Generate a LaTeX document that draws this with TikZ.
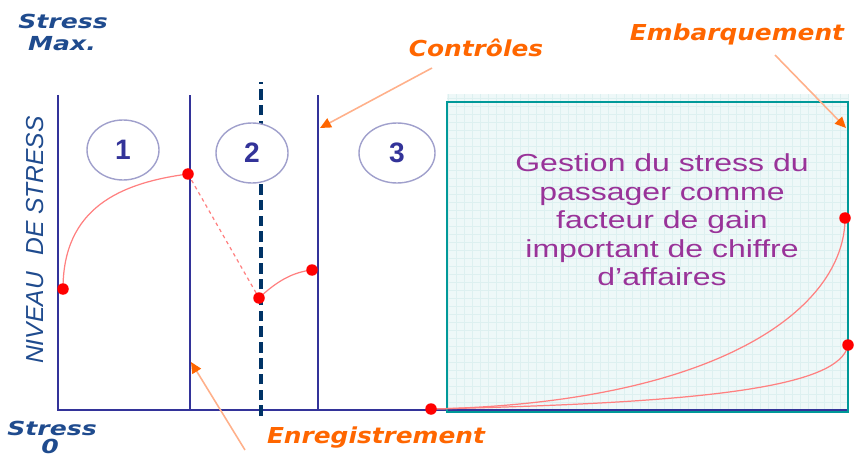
\documentclass[tikz,border=0pt]{standalone}
\usepackage{fontspec}
\setmainfont{Liberation Sans}
\newfontfamily\labelfont{DejaVu Sans}
\usepackage{graphicx}
\usepackage{tikz}
\usetikzlibrary{arrows.meta, positioning, calc, shapes.geometric}

\definecolor{axisblue}{HTML}{333399}
\definecolor{dashblue}{HTML}{003366}
\definecolor{boxteal}{HTML}{009999}
\definecolor{boxfill}{HTML}{EEF8F8}
\definecolor{gridline}{HTML}{DDF0F0}
\definecolor{labelorange}{HTML}{FF6600}
\definecolor{arroworange}{HTML}{FFB08A}
\definecolor{curvered}{HTML}{FF8080}
\definecolor{textpurple}{HTML}{993399}
\definecolor{ringgray}{HTML}{A0A0CC}
\definecolor{titleblue}{HTML}{1F4B8E}

\begin{document}
\begin{tikzpicture}[
      x=0.2mm, y=0.2mm,
      axis/.style={draw=axisblue, line width=1.6pt},
      dashaxis/.style={draw=dashblue, line width=1.8pt, dash pattern=on 6pt off 3pt},
      phase/.style={ellipse, draw=ringgray, line width=0.8pt, fill=white,
        minimum width=14.4mm, minimum height=12mm, inner sep=0pt,
        font=\bfseries\fontsize{16}{18}\selectfont, text=axisblue},
      dot/.style={circle, fill=red, inner sep=0pt, minimum size=2.3mm},
      curve/.style={draw=curvered, line width=0.7pt},
      tag/.style={font=\labelfont\bfseries\itshape\fontsize{12.5}{14}\selectfont,
        text=labelorange, xscale=1.13, inner sep=0pt},
      scalelab/.style={font=\labelfont\bfseries\itshape\fontsize{11}{12}\selectfont,
        text=titleblue, xscale=1.3, inner sep=0pt},
      vlab/.style={font=\itshape\fontsize{14}{16}\selectfont, text=titleblue,
        rotate=90, inner sep=0pt},
      boxtext/.style={font=\fontsize{14}{16.2}\selectfont, text=textpurple,
        align=center, xscale=1.3, inner sep=0pt},
      pointer/.style={draw=arroworange, line width=0.9pt,
        -{Triangle[length=2.2mm, width=2mm, color=labelorange]}}
    ]
    \useasboundingbox (0,0) rectangle (856,458);

    % ---- gain zone on the right ----
    \fill[boxfill] (447,46) rectangle (848,364);
    \draw[gridline, line width=0.4pt, step=1.6mm] (447,46) grid (848,364);

    % ---- axes and phase limits ----
    \draw[axis] (58,363) -- (58,48) -- (848,48);
    \draw[axis] (190,48) -- (190,363);
    \draw[axis] (318,48) -- (318,363);
    \draw[dashaxis] (261,42) -- (261,376);
    \draw[draw=boxteal, line width=1.6pt] (447,46) rectangle (848,356);

    \node[phase] (ph1) at (123,308) {1};
    \node[phase] (ph2) at (252,305) {2};
    \node[phase, minimum width=15.2mm] (ph3) at (397,305) {3};

    % ---- stress curve ----
    \coordinate (c0) at (63,169);
    \coordinate (c1) at (188,284);
    \coordinate (c2) at (259,160);
    \coordinate (c3) at (312,188);
    \coordinate (c4) at (431,49);
    \coordinate (c5) at (845,240);
    \coordinate (c6) at (848,113);

    \draw[curve] (c0) .. controls (63,250) and (120,275) .. (c1);
    \draw[curve, dash pattern=on 2pt off 2pt] (c1) -- (c2);
    \draw[curve] (c2) .. controls (278,178) and (294,186) .. (c3);
    \draw[curve] (c4) .. controls (720,55) and (845,150) .. (c5);
    \draw[curve] (c4) .. controls (700,55) and (840,70) .. (c6);

    \foreach \i in {0,...,6}
      \node[dot] (d\i) at (c\i) {};

    % ---- labels ----
    \node[tag] (ctrl) at (476,410) {Contrôles};
    \node[tag] (emb)  at (737,424) {Embarquement};
    \node[tag] (enr)  at (376,20)  {Enregistrement};

    \node[scalelab] (smax) at (63,437) {Stress};
    \node[scalelab] (max)  at (62,414) {Max.};
    \node[scalelab] (szero) at (52,30) {Stress};
    \node[scalelab] (zero) at (50,12)  {0};

    \node[vlab] (niv) at (35,140) {NIVEAU};
    \node[vlab] (des) at (35,272) {DE STRESS};

    \node[boxtext] (msg) at (662,238)
      {Gestion du stress du\\ passager comme\\ facteur de gain\\
       important de chiffre\\ d'affaires};

    % ---- pointers ----
    \coordinate (ctrl-from) at (432,390);
    \coordinate (ctrl-to)   at (320,330);
    \coordinate (emb-from)  at (775,403);
    \coordinate (emb-to)    at (846,330);
    \coordinate (enr-from)  at (245,8);
    \coordinate (enr-to)    at (191,96);
    \draw[pointer] (ctrl-from) -- (ctrl-to);
    \draw[pointer] (emb-from)  -- (emb-to);
    \draw[pointer] (enr-from)  -- (enr-to);
  \end{tikzpicture}
\end{document}
